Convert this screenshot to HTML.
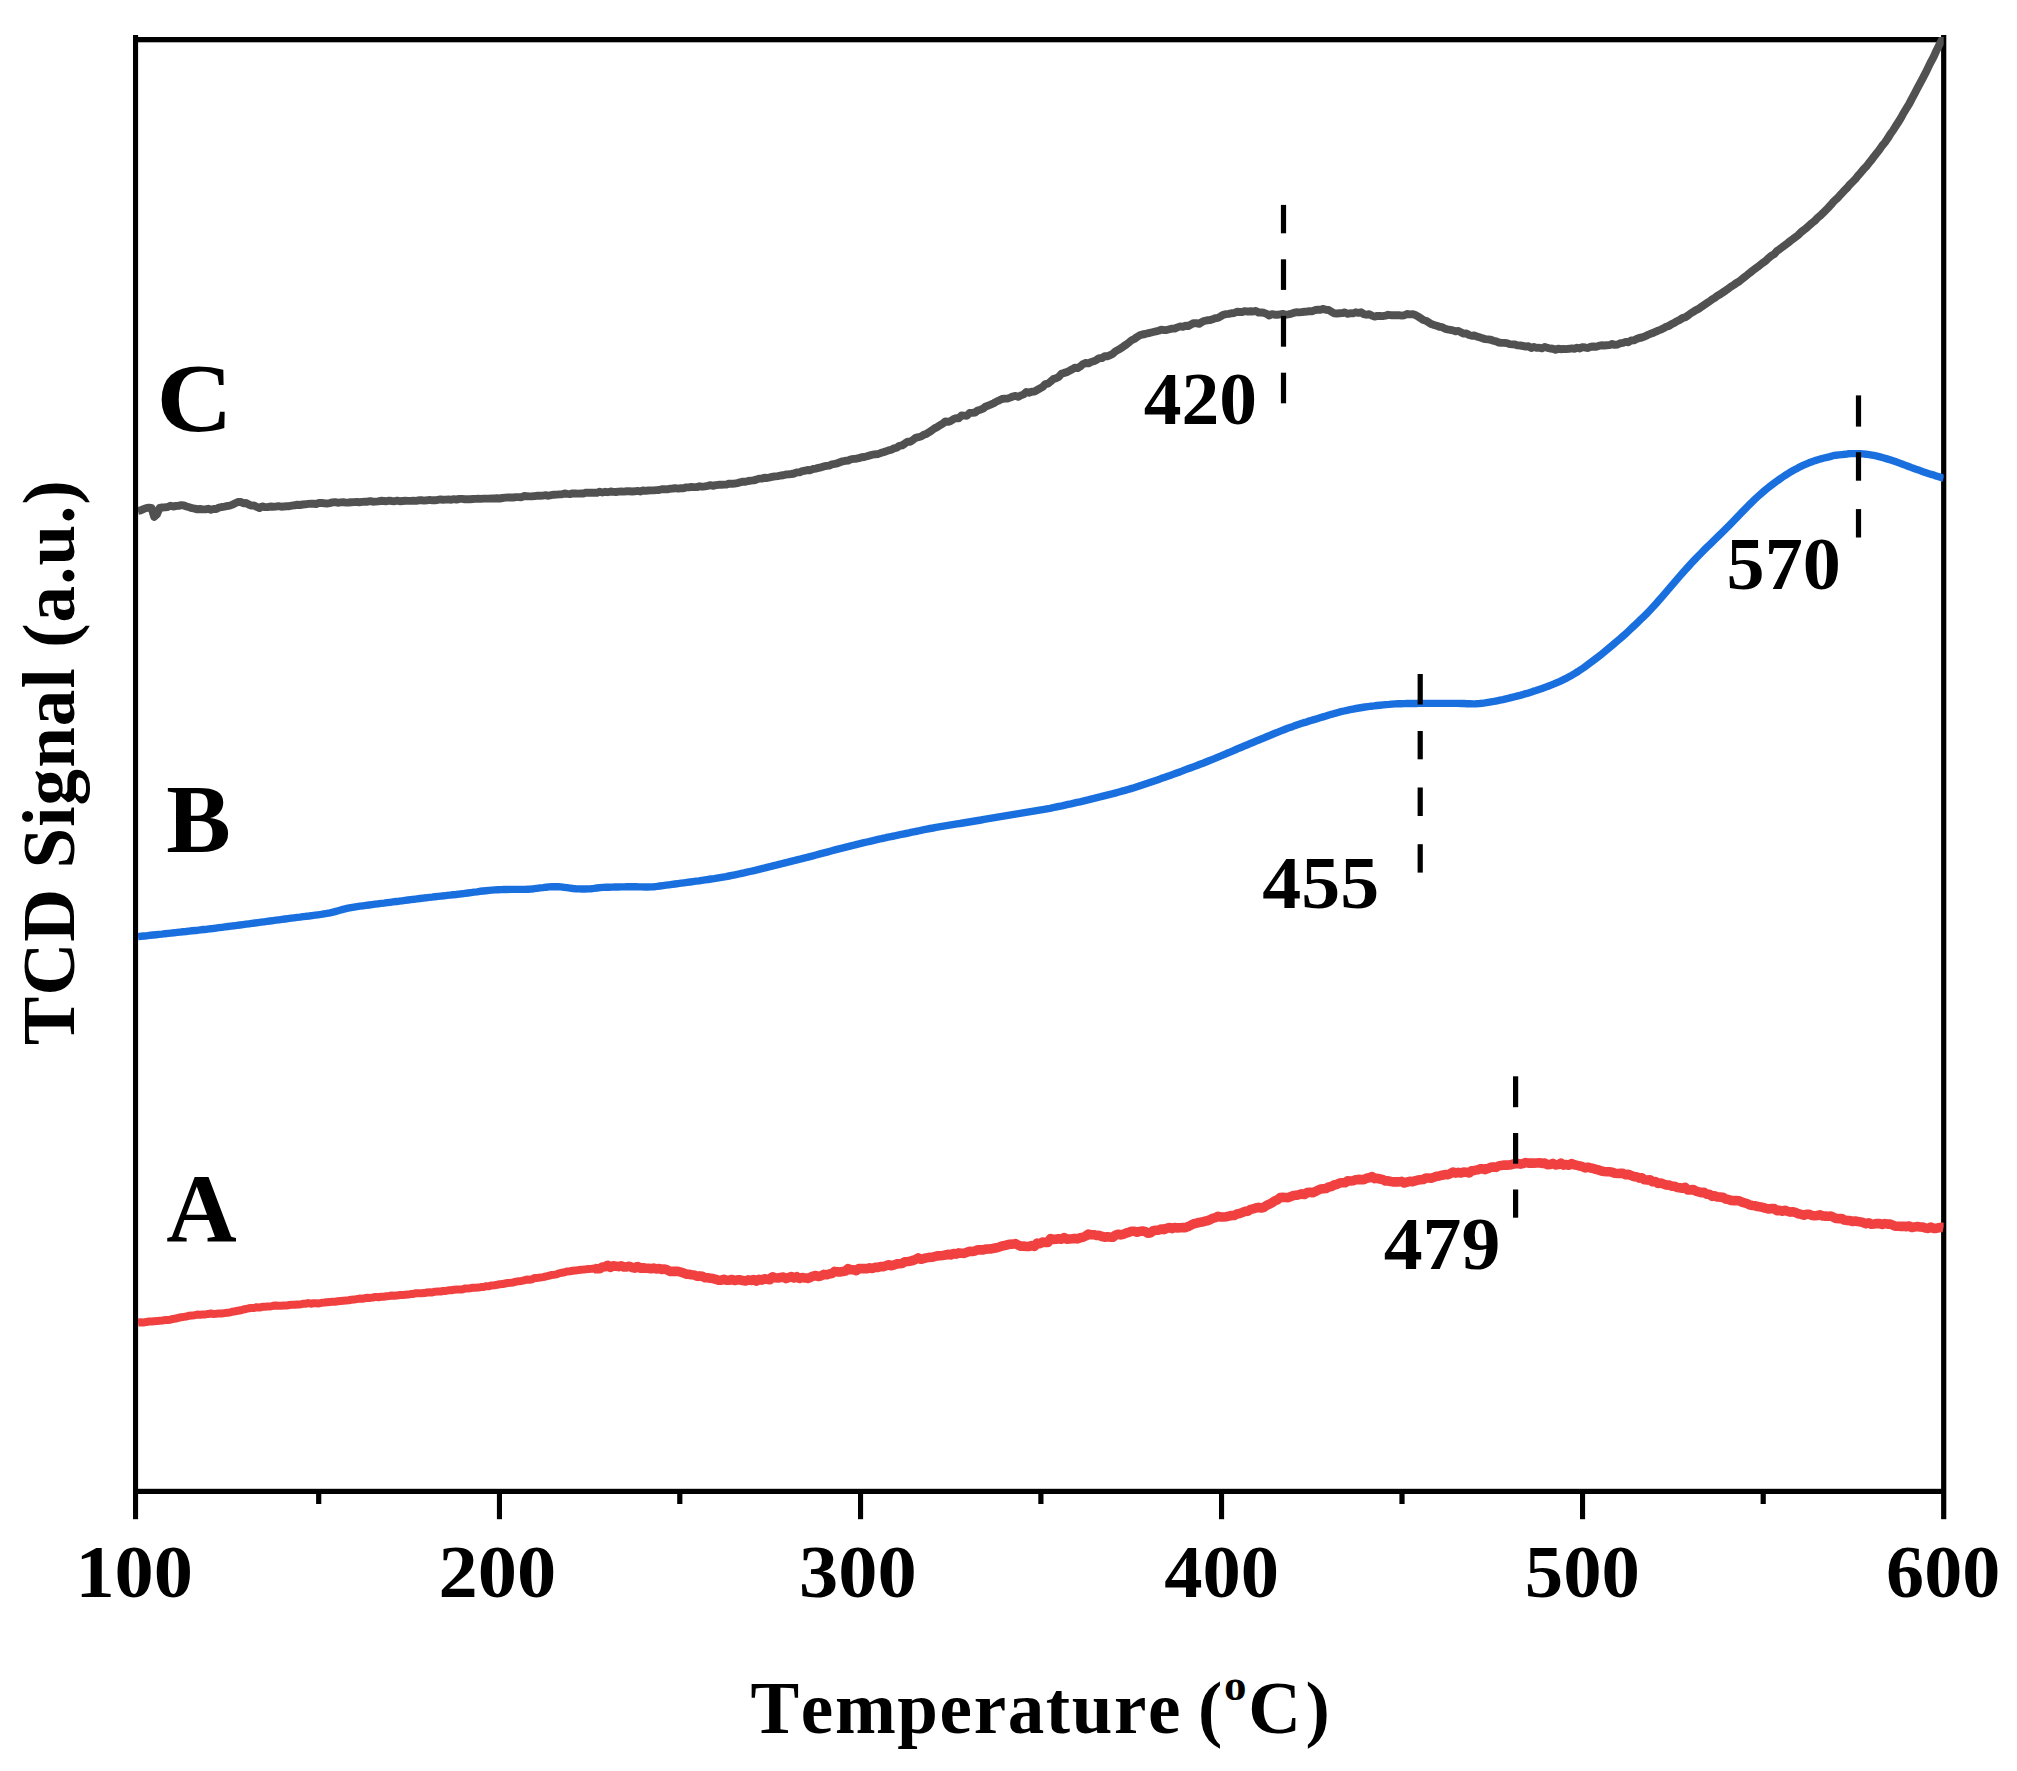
<!DOCTYPE html>
<html><head><meta charset="utf-8"><title>TCD Signal vs Temperature</title>
<style>html,body{margin:0;padding:0;background:#fff}svg{display:block}text{font-kerning:none;font-family:"Liberation Serif",serif;font-weight:bold;fill:#000}</style></head><body>
<svg width="2017" height="1771" viewBox="0 0 2017 1771">
<rect width="2017" height="1771" fill="#fff"/>
<rect x="133" y="37" width="1813" height="5.3" fill="#000"/>
<rect x="133" y="35" width="5.1" height="1484.2" fill="#000"/>
<rect x="1941.1" y="35" width="5.2" height="1484.2" fill="#000"/>
<rect x="133" y="1488.8" width="1813" height="5.2" fill="#000"/>
<rect x="496.9" y="1491" width="5.1" height="28.2" fill="#000"/>
<rect x="858.0" y="1491" width="5.1" height="28.2" fill="#000"/>
<rect x="1219.0" y="1491" width="5.1" height="28.2" fill="#000"/>
<rect x="1580.0" y="1491" width="5.1" height="28.2" fill="#000"/>
<rect x="316.1" y="1491" width="5.2" height="13" fill="#000"/>
<rect x="677.2" y="1491" width="5.2" height="13" fill="#000"/>
<rect x="1038.3" y="1491" width="5.2" height="13" fill="#000"/>
<rect x="1399.4" y="1491" width="5.2" height="13" fill="#000"/>
<rect x="1760.6" y="1491" width="5.2" height="13" fill="#000"/>
<defs><clipPath id="plotclip"><rect x="138" y="37" width="1805.7" height="1457"/></clipPath></defs>
<g clip-path="url(#plotclip)" fill="none" stroke-linejoin="round">
<polyline points="138.0,510.9 140.7,510.3 143.4,509.1 146.1,508.1 148.8,507.7 151.5,507.9 154.2,516.9 156.9,514.4 159.6,508.0 162.3,507.5 165.0,507.3 167.7,507.0 170.4,505.7 173.1,506.5 175.8,506.0 178.5,505.9 181.2,505.1 183.9,505.5 186.6,506.5 189.3,507.3 192.0,508.2 194.7,508.6 197.4,509.4 200.1,509.0 202.8,509.4 205.5,509.4 208.2,508.8 210.9,509.8 213.6,509.0 216.3,509.0 219.0,507.6 221.7,507.0 224.4,506.6 227.1,506.0 229.8,505.6 232.5,504.6 235.2,503.3 237.9,502.0 240.6,501.9 243.3,503.2 246.0,503.0 248.7,504.5 251.4,505.6 254.1,505.5 256.8,506.9 259.5,508.0 262.2,506.4 264.9,507.1 267.6,507.1 270.3,506.5 273.0,506.8 275.7,506.6 278.4,506.2 281.1,506.7 283.8,506.5 286.5,506.3 289.2,506.2 291.9,505.6 294.6,505.3 297.3,504.7 300.0,505.0 302.7,504.5 305.4,504.3 308.1,503.9 310.8,503.8 313.5,503.7 316.2,504.0 318.9,503.0 321.6,503.0 324.3,503.3 327.0,503.5 329.7,503.1 332.4,502.4 335.1,502.1 337.8,502.8 340.5,502.4 343.2,502.2 345.9,502.6 348.6,502.5 351.3,502.2 354.0,502.1 356.7,502.0 359.4,502.2 362.1,501.9 364.8,501.8 367.5,501.7 370.2,501.1 372.9,501.7 375.6,501.6 378.3,501.4 381.0,500.7 383.7,501.0 386.4,501.3 389.1,500.6 391.8,501.0 394.5,501.3 397.2,500.6 399.9,501.3 402.6,501.0 405.3,500.8 408.0,500.9 410.7,500.9 413.4,500.7 416.1,500.9 418.8,500.3 421.5,500.3 424.2,500.6 426.9,500.3 429.6,499.9 432.3,500.3 435.0,500.3 437.7,499.8 440.4,499.4 443.1,499.7 445.8,499.6 448.5,499.4 451.2,499.8 453.9,499.1 456.6,499.6 459.3,498.9 462.0,498.9 464.7,499.2 467.4,499.3 470.1,499.2 472.8,499.0 475.5,498.9 478.2,498.8 480.9,498.9 483.6,498.6 486.3,498.6 489.0,498.6 491.7,498.4 494.4,498.5 497.1,498.3 499.8,498.5 502.5,498.0 505.2,497.6 507.9,497.5 510.6,497.4 513.3,497.5 516.0,497.1 518.7,497.1 521.4,497.3 524.1,496.0 526.8,496.2 529.5,496.4 532.2,496.3 534.9,496.1 537.6,495.7 540.3,495.8 543.0,495.6 545.7,495.2 548.4,495.8 551.1,495.1 553.8,494.7 556.5,494.6 559.2,494.4 561.9,494.3 564.6,493.5 567.3,493.9 570.0,494.1 572.7,493.4 575.4,493.5 578.1,493.6 580.8,493.5 583.5,493.5 586.2,492.6 588.9,492.8 591.6,492.7 594.3,492.8 597.0,492.8 599.7,491.7 602.4,492.5 605.1,491.8 607.8,492.2 610.5,491.5 613.2,491.9 615.9,492.0 618.6,491.6 621.3,491.5 624.0,491.6 626.7,491.3 629.4,491.2 632.1,491.5 634.8,491.3 637.5,490.9 640.2,491.5 642.9,490.5 645.6,490.9 648.3,490.5 651.0,490.4 653.7,490.4 656.4,490.1 659.1,490.0 661.8,489.3 664.5,489.1 667.2,489.4 669.9,488.7 672.6,488.5 675.3,488.2 678.0,488.6 680.7,488.3 683.4,488.2 686.1,487.4 688.8,487.4 691.5,486.9 694.2,487.1 696.9,487.1 699.6,486.3 702.3,486.7 705.0,486.3 707.7,485.8 710.4,485.2 713.1,485.8 715.8,485.2 718.5,484.8 721.2,484.8 723.9,484.6 726.6,484.5 729.3,483.6 732.0,483.8 734.7,483.5 737.4,483.1 740.1,482.3 742.8,481.7 745.5,481.7 748.2,481.0 750.9,480.6 753.6,480.4 756.3,479.6 759.0,478.6 761.7,478.6 764.4,477.8 767.1,478.0 769.8,477.4 772.5,476.7 775.2,476.4 777.9,476.1 780.6,475.5 783.3,475.3 786.0,474.5 788.7,474.3 791.4,474.0 794.1,473.5 796.8,472.4 799.5,472.3 802.2,471.1 804.9,470.8 807.6,470.0 810.3,470.2 813.0,469.0 815.7,468.6 818.4,467.9 821.1,467.3 823.8,466.4 826.5,465.9 829.2,465.6 831.9,464.4 834.6,463.9 837.3,463.3 840.0,462.3 842.7,461.3 845.4,460.8 848.1,460.6 850.8,459.3 853.5,458.9 856.2,458.7 858.9,458.1 861.6,457.3 864.3,457.0 867.0,456.3 869.7,455.4 872.4,454.7 875.1,454.3 877.8,454.1 880.5,453.1 883.2,452.2 885.9,451.4 888.6,450.4 891.3,449.7 894.0,448.4 896.7,447.7 899.4,445.8 902.1,445.4 904.8,443.6 907.5,441.7 910.2,441.8 912.9,440.0 915.6,437.8 918.3,437.2 921.0,436.5 923.7,434.8 926.4,433.9 929.1,432.2 931.8,430.4 934.5,428.4 937.2,427.1 939.9,425.2 942.6,423.8 945.3,421.4 948.0,421.9 950.7,421.0 953.4,419.2 956.1,418.1 958.8,418.3 961.5,415.5 964.2,415.6 966.9,415.7 969.6,413.0 972.3,412.9 975.0,412.5 977.7,410.5 980.4,409.7 983.1,408.6 985.8,406.4 988.5,405.5 991.2,404.3 993.9,403.2 996.6,401.5 999.3,400.3 1002.0,399.0 1004.7,398.6 1007.4,398.6 1010.1,397.6 1012.8,396.5 1015.5,395.9 1018.2,396.9 1020.9,395.4 1023.6,394.4 1026.3,392.0 1029.0,392.7 1031.7,391.8 1034.4,391.6 1037.1,390.0 1039.8,388.5 1042.5,387.1 1045.2,384.1 1047.9,383.7 1050.6,381.5 1053.3,379.1 1056.0,378.3 1058.7,376.9 1061.4,373.8 1064.1,372.9 1066.8,372.1 1069.5,370.8 1072.2,369.3 1074.9,367.7 1077.6,368.1 1080.3,366.4 1083.0,364.1 1085.7,363.0 1088.4,363.4 1091.1,362.0 1093.8,361.3 1096.5,359.9 1099.2,358.2 1101.9,358.1 1104.6,356.3 1107.3,356.2 1110.0,355.2 1112.7,353.9 1115.4,351.4 1118.1,349.9 1120.8,348.3 1123.5,346.4 1126.2,344.6 1128.9,342.5 1131.6,340.3 1134.3,339.0 1137.0,337.0 1139.7,335.3 1142.4,334.5 1145.1,334.0 1147.8,333.3 1150.5,332.7 1153.2,332.0 1155.9,331.4 1158.6,330.7 1161.3,329.7 1164.0,330.1 1166.7,330.0 1169.4,329.3 1172.1,328.6 1174.8,328.5 1177.5,327.4 1180.2,326.4 1182.9,326.8 1185.6,325.7 1188.3,326.0 1191.0,324.5 1193.7,323.1 1196.4,323.2 1199.1,323.8 1201.8,322.1 1204.5,320.8 1207.2,320.3 1209.9,320.1 1212.6,319.3 1215.3,318.2 1218.0,317.9 1220.7,316.3 1223.4,314.8 1226.1,314.1 1228.8,313.9 1231.5,313.2 1234.2,313.0 1236.9,311.7 1239.6,312.0 1242.3,312.0 1245.0,311.1 1247.7,311.6 1250.4,311.3 1253.1,311.5 1255.8,310.9 1258.5,312.5 1261.2,312.5 1263.9,312.8 1266.6,313.9 1269.3,315.5 1272.0,314.1 1274.7,314.7 1277.4,314.8 1280.1,314.3 1282.8,313.9 1285.5,314.7 1288.2,314.4 1290.9,313.9 1293.6,312.9 1296.3,312.2 1299.0,312.4 1301.7,312.1 1304.4,311.8 1307.1,311.5 1309.8,311.1 1312.5,311.2 1315.2,310.0 1317.9,309.8 1320.6,309.7 1323.3,308.9 1326.0,309.8 1328.7,310.0 1331.4,311.8 1334.1,313.2 1336.8,313.5 1339.5,313.2 1342.2,313.1 1344.9,312.4 1347.6,313.9 1350.3,313.2 1353.0,313.4 1355.7,312.3 1358.4,312.8 1361.1,312.3 1363.8,314.1 1366.5,314.8 1369.2,314.1 1371.9,315.6 1374.6,316.6 1377.3,315.9 1380.0,316.0 1382.7,316.1 1385.4,315.7 1388.1,314.8 1390.8,315.2 1393.5,315.2 1396.2,315.3 1398.9,315.2 1401.6,315.6 1404.3,315.3 1407.0,314.0 1409.7,314.4 1412.4,314.2 1415.1,314.8 1417.8,316.4 1420.5,318.1 1423.2,320.0 1425.9,320.7 1428.6,322.4 1431.3,324.1 1434.0,325.0 1436.7,325.8 1439.4,326.8 1442.1,327.1 1444.8,328.7 1447.5,329.4 1450.2,329.9 1452.9,330.4 1455.6,331.4 1458.3,330.9 1461.0,332.4 1463.7,333.6 1466.4,333.5 1469.1,335.0 1471.8,335.7 1474.5,335.5 1477.2,336.7 1479.9,337.3 1482.6,338.4 1485.3,339.1 1488.0,339.4 1490.7,339.7 1493.4,340.7 1496.1,341.4 1498.8,342.5 1501.5,342.9 1504.2,342.9 1506.9,343.1 1509.6,344.1 1512.3,344.4 1515.0,344.5 1517.7,345.4 1520.4,345.5 1523.1,346.0 1525.8,346.5 1528.5,346.3 1531.2,348.0 1533.9,346.9 1536.6,347.9 1539.3,347.7 1542.0,348.4 1544.7,346.9 1547.4,347.9 1550.1,348.5 1552.8,348.8 1555.5,349.7 1558.2,348.7 1560.9,349.2 1563.6,348.9 1566.3,349.1 1569.0,348.8 1571.7,348.4 1574.4,348.7 1577.1,347.7 1579.8,348.5 1582.5,347.1 1585.2,347.5 1587.9,348.1 1590.6,346.7 1593.3,346.5 1596.0,346.8 1598.7,345.9 1601.4,345.2 1604.1,345.5 1606.8,345.3 1609.5,345.1 1612.2,344.0 1614.9,344.9 1617.6,344.5 1620.3,343.2 1623.0,342.9 1625.7,341.9 1628.4,342.2 1631.1,340.5 1633.8,340.4 1636.5,339.0 1639.2,338.0 1641.9,337.5 1644.6,336.6 1647.3,335.2 1650.0,334.0 1652.7,333.1 1655.4,331.8 1658.1,330.6 1660.8,329.6 1663.5,328.3 1666.2,326.7 1668.9,325.9 1671.6,324.1 1674.3,322.9 1677.0,321.2 1679.7,319.9 1682.4,318.1 1685.1,317.3 1687.8,315.6 1690.5,313.5 1693.2,311.8 1695.9,310.1 1698.6,308.9 1701.3,306.8 1704.0,305.1 1706.7,303.2 1709.4,301.5 1712.1,299.4 1714.8,297.8 1717.5,295.7 1720.2,294.2 1722.9,292.4 1725.6,290.6 1728.3,288.7 1731.0,286.7 1733.7,285.0 1736.4,283.0 1739.1,281.5 1741.8,279.3 1744.5,277.1 1747.2,275.0 1749.9,272.8 1752.6,270.7 1755.3,268.7 1758.0,266.7 1760.7,264.5 1763.4,262.4 1766.1,260.5 1768.8,257.8 1771.5,255.7 1774.2,254.1 1776.9,251.0 1779.6,249.2 1782.3,247.2 1785.0,245.1 1787.7,243.1 1790.4,240.9 1793.1,238.9 1795.8,236.8 1798.5,234.8 1801.2,232.0 1803.9,230.0 1806.6,227.9 1809.3,225.4 1812.0,223.0 1814.7,220.9 1817.4,218.1 1820.1,215.8 1822.8,213.2 1825.5,210.4 1828.2,207.7 1830.9,204.8 1833.6,201.7 1836.3,199.2 1839.0,196.4 1841.7,193.4 1844.4,190.6 1847.1,187.9 1849.8,184.6 1852.5,182.0 1855.2,179.3 1857.9,175.8 1860.6,172.8 1863.3,169.6 1866.0,166.8 1868.7,163.3 1871.4,160.1 1874.1,156.4 1876.8,153.1 1879.5,149.6 1882.2,145.6 1884.9,142.5 1887.6,138.6 1890.3,134.1 1893.0,130.5 1895.7,126.2 1898.4,122.0 1901.1,117.6 1903.8,112.7 1906.5,108.3 1909.2,103.9 1911.9,98.6 1914.6,93.6 1917.3,88.4 1920.0,83.3 1922.7,78.3 1925.4,73.2 1928.1,67.6 1930.8,62.1 1933.5,57.1 1936.2,51.1 1938.9,45.7 1941.6,40.6 1943.7,35.2" stroke="#515151" stroke-width="7.9"/>
<polyline points="138.0,936.6 141.0,936.3 144.0,936.0 147.0,935.7 150.0,935.3 153.0,935.0 156.0,934.7 159.0,934.4 162.0,934.1 165.0,933.7 168.0,933.4 171.0,933.1 174.0,932.8 177.0,932.4 180.0,932.1 183.0,931.8 186.0,931.5 189.0,931.1 192.0,930.8 195.0,930.5 198.0,930.2 201.0,929.8 204.0,929.5 207.0,929.2 210.0,928.8 213.0,928.5 216.0,928.1 219.0,927.7 222.0,927.3 225.0,926.9 228.0,926.5 231.0,926.1 234.0,925.8 237.0,925.4 240.0,925.0 243.0,924.6 246.0,924.2 249.0,923.8 252.0,923.4 255.0,923.0 258.0,922.6 261.0,922.2 264.0,921.8 267.0,921.4 270.0,921.0 273.0,920.6 276.0,920.2 279.0,919.8 282.0,919.4 285.0,919.0 288.0,918.6 291.0,918.2 294.0,917.8 297.0,917.4 300.0,917.1 303.0,916.7 306.0,916.3 309.0,916.0 312.0,915.6 315.0,915.2 318.0,914.8 321.0,914.4 324.0,913.9 327.0,913.4 330.0,912.8 333.0,912.1 336.0,911.3 339.0,910.5 342.0,909.7 345.0,908.9 348.0,908.2 351.0,907.6 354.0,907.1 357.0,906.6 360.0,906.2 363.0,905.8 366.0,905.4 369.0,905.0 372.0,904.6 375.0,904.2 378.0,903.8 381.0,903.4 384.0,903.1 387.0,902.7 390.0,902.3 393.0,901.9 396.0,901.5 399.0,901.2 402.0,900.8 405.0,900.4 408.0,900.0 411.0,899.6 414.0,899.3 417.0,898.9 420.0,898.5 423.0,898.1 426.0,897.8 429.0,897.4 432.0,897.1 435.0,896.7 438.0,896.4 441.0,896.1 444.0,895.8 447.0,895.4 450.0,895.1 453.0,894.8 456.0,894.5 459.0,894.1 462.0,893.8 465.0,893.4 468.0,893.0 471.0,892.6 474.0,892.2 477.0,891.8 480.0,891.3 483.0,891.0 486.0,890.7 489.0,890.4 492.0,890.1 495.0,889.9 498.0,889.7 501.0,889.6 504.0,889.5 507.0,889.5 510.0,889.4 513.0,889.4 516.0,889.4 519.0,889.4 522.0,889.4 525.0,889.4 528.0,889.2 531.0,889.0 534.0,888.7 537.0,888.3 540.0,887.9 543.0,887.6 546.0,887.2 549.0,886.9 552.0,886.8 555.0,886.7 558.0,886.7 561.0,886.9 564.0,887.3 567.0,887.7 570.0,888.1 573.0,888.5 576.0,888.8 579.0,888.9 582.0,889.0 585.0,889.0 588.0,888.9 591.0,888.7 594.0,888.4 597.0,888.0 600.0,887.6 603.0,887.4 606.0,887.3 609.0,887.2 612.0,887.1 615.0,887.0 618.0,887.0 621.0,886.9 624.0,886.9 627.0,886.8 630.0,886.8 633.0,886.8 636.0,886.8 639.0,886.9 642.0,886.9 645.0,887.0 648.0,887.0 651.0,886.9 654.0,886.7 657.0,886.4 660.0,886.0 663.0,885.6 666.0,885.2 669.0,884.8 672.0,884.4 675.0,884.0 678.0,883.6 681.0,883.2 684.0,882.8 687.0,882.4 690.0,882.0 693.0,881.6 696.0,881.2 699.0,880.8 702.0,880.3 705.0,879.9 708.0,879.5 711.0,879.0 714.0,878.6 717.0,878.1 720.0,877.6 723.0,877.1 726.0,876.6 729.0,876.0 732.0,875.4 735.0,874.8 738.0,874.2 741.0,873.5 744.0,872.9 747.0,872.2 750.0,871.5 753.0,870.8 756.0,870.1 759.0,869.3 762.0,868.6 765.0,867.9 768.0,867.1 771.0,866.4 774.0,865.6 777.0,864.9 780.0,864.1 783.0,863.4 786.0,862.6 789.0,861.9 792.0,861.1 795.0,860.4 798.0,859.6 801.0,858.9 804.0,858.1 807.0,857.4 810.0,856.6 813.0,855.8 816.0,855.0 819.0,854.2 822.0,853.4 825.0,852.6 828.0,851.8 831.0,851.0 834.0,850.2 837.0,849.4 840.0,848.6 843.0,847.9 846.0,847.1 849.0,846.4 852.0,845.6 855.0,844.9 858.0,844.1 861.0,843.4 864.0,842.7 867.0,842.0 870.0,841.3 873.0,840.6 876.0,839.9 879.0,839.2 882.0,838.5 885.0,837.9 888.0,837.2 891.0,836.6 894.0,836.0 897.0,835.3 900.0,834.7 903.0,834.1 906.0,833.5 909.0,832.9 912.0,832.2 915.0,831.6 918.0,831.0 921.0,830.3 924.0,829.7 927.0,829.1 930.0,828.5 933.0,828.0 936.0,827.4 939.0,826.9 942.0,826.4 945.0,825.9 948.0,825.4 951.0,824.9 954.0,824.4 957.0,823.9 960.0,823.5 963.0,823.0 966.0,822.5 969.0,822.0 972.0,821.5 975.0,821.0 978.0,820.5 981.0,820.0 984.0,819.4 987.0,818.9 990.0,818.4 993.0,817.9 996.0,817.4 999.0,816.9 1002.0,816.4 1005.0,815.9 1008.0,815.4 1011.0,814.9 1014.0,814.4 1017.0,813.9 1020.0,813.4 1023.0,812.9 1026.0,812.4 1029.0,811.9 1032.0,811.4 1035.0,810.9 1038.0,810.4 1041.0,809.9 1044.0,809.4 1047.0,808.8 1050.0,808.3 1053.0,807.7 1056.0,807.0 1059.0,806.4 1062.0,805.8 1065.0,805.1 1068.0,804.4 1071.0,803.8 1074.0,803.1 1077.0,802.4 1080.0,801.8 1083.0,801.1 1086.0,800.4 1089.0,799.7 1092.0,798.9 1095.0,798.2 1098.0,797.4 1101.0,796.7 1104.0,795.9 1107.0,795.1 1110.0,794.3 1113.0,793.6 1116.0,792.8 1119.0,792.0 1122.0,791.2 1125.0,790.4 1128.0,789.5 1131.0,788.6 1134.0,787.7 1137.0,786.7 1140.0,785.7 1143.0,784.7 1146.0,783.7 1149.0,782.7 1152.0,781.7 1155.0,780.7 1158.0,779.7 1161.0,778.6 1164.0,777.6 1167.0,776.5 1170.0,775.5 1173.0,774.4 1176.0,773.3 1179.0,772.2 1182.0,771.1 1185.0,769.9 1188.0,768.8 1191.0,767.7 1194.0,766.6 1197.0,765.5 1200.0,764.3 1203.0,763.2 1206.0,762.0 1209.0,760.8 1212.0,759.6 1215.0,758.4 1218.0,757.1 1221.0,755.9 1224.0,754.6 1227.0,753.3 1230.0,752.1 1233.0,750.8 1236.0,749.5 1239.0,748.2 1242.0,747.0 1245.0,745.7 1248.0,744.5 1251.0,743.2 1254.0,742.0 1257.0,740.7 1260.0,739.5 1263.0,738.3 1266.0,737.0 1269.0,735.8 1272.0,734.5 1275.0,733.3 1278.0,732.1 1281.0,730.9 1284.0,729.7 1287.0,728.5 1290.0,727.4 1293.0,726.4 1296.0,725.3 1299.0,724.3 1302.0,723.3 1305.0,722.4 1308.0,721.4 1311.0,720.5 1314.0,719.6 1317.0,718.7 1320.0,717.8 1323.0,716.9 1326.0,716.0 1329.0,715.0 1332.0,714.2 1335.0,713.3 1338.0,712.5 1341.0,711.7 1344.0,711.0 1347.0,710.3 1350.0,709.7 1353.0,709.1 1356.0,708.5 1359.0,708.0 1362.0,707.5 1365.0,707.0 1368.0,706.6 1371.0,706.2 1374.0,705.9 1377.0,705.5 1380.0,705.2 1383.0,704.9 1386.0,704.6 1389.0,704.4 1392.0,704.1 1395.0,703.9 1398.0,703.8 1401.0,703.7 1404.0,703.6 1407.0,703.5 1410.0,703.5 1413.0,703.5 1416.0,703.5 1419.0,703.4 1422.0,703.4 1425.0,703.4 1428.0,703.4 1431.0,703.4 1434.0,703.4 1437.0,703.4 1440.0,703.4 1443.0,703.4 1446.0,703.4 1449.0,703.4 1452.0,703.4 1455.0,703.4 1458.0,703.4 1461.0,703.5 1464.0,703.5 1467.0,703.7 1470.0,703.8 1473.0,703.9 1476.0,703.8 1479.0,703.6 1482.0,703.3 1485.0,702.9 1488.0,702.4 1491.0,701.9 1494.0,701.4 1497.0,700.8 1500.0,700.2 1503.0,699.6 1506.0,698.9 1509.0,698.2 1512.0,697.4 1515.0,696.7 1518.0,695.9 1521.0,695.1 1524.0,694.2 1527.0,693.4 1530.0,692.4 1533.0,691.4 1536.0,690.5 1539.0,689.5 1542.0,688.5 1545.0,687.4 1548.0,686.3 1551.0,685.1 1554.0,683.9 1557.0,682.6 1560.0,681.3 1563.0,679.9 1566.0,678.4 1569.0,676.8 1572.0,675.2 1575.0,673.4 1578.0,671.5 1581.0,669.5 1584.0,667.5 1587.0,665.3 1590.0,663.1 1593.0,660.8 1596.0,658.5 1599.0,656.2 1602.0,653.8 1605.0,651.4 1608.0,648.9 1611.0,646.4 1614.0,643.9 1617.0,641.3 1620.0,638.7 1623.0,636.1 1626.0,633.4 1629.0,630.6 1632.0,627.8 1635.0,625.0 1638.0,622.1 1641.0,619.2 1644.0,616.3 1647.0,613.3 1650.0,610.2 1653.0,607.0 1656.0,603.7 1659.0,600.3 1662.0,596.8 1665.0,593.3 1668.0,589.8 1671.0,586.3 1674.0,582.8 1677.0,579.3 1680.0,575.9 1683.0,572.5 1686.0,569.1 1689.0,565.9 1692.0,562.6 1695.0,559.4 1698.0,556.3 1701.0,553.2 1704.0,550.2 1707.0,547.2 1710.0,544.3 1713.0,541.3 1716.0,538.4 1719.0,535.5 1722.0,532.6 1725.0,529.6 1728.0,526.6 1731.0,523.6 1734.0,520.5 1737.0,517.4 1740.0,514.2 1743.0,511.1 1746.0,508.1 1749.0,505.0 1752.0,502.1 1755.0,499.2 1758.0,496.4 1761.0,493.7 1764.0,491.1 1767.0,488.6 1770.0,486.3 1773.0,484.0 1776.0,481.7 1779.0,479.6 1782.0,477.5 1785.0,475.5 1788.0,473.6 1791.0,471.7 1794.0,470.0 1797.0,468.4 1800.0,466.8 1803.0,465.4 1806.0,464.1 1809.0,462.8 1812.0,461.7 1815.0,460.6 1818.0,459.7 1821.0,458.8 1824.0,458.0 1827.0,457.3 1830.0,456.6 1833.0,455.7 1836.0,455.2 1839.0,454.9 1842.0,454.6 1845.0,454.3 1848.0,453.8 1851.0,453.6 1854.0,453.6 1857.0,453.6 1860.0,453.7 1863.0,453.9 1866.0,454.2 1869.0,454.6 1872.0,455.1 1875.0,455.7 1878.0,456.4 1881.0,457.2 1884.0,458.0 1887.0,458.9 1890.0,459.8 1893.0,460.8 1896.0,461.8 1899.0,462.9 1902.0,464.0 1905.0,465.1 1908.0,466.2 1911.0,467.4 1914.0,468.5 1917.0,469.6 1920.0,470.6 1923.0,471.7 1926.0,472.7 1929.0,473.7 1932.0,474.6 1935.0,475.6 1938.0,476.5 1941.0,477.4 1943.7,478.3" stroke="#1a6fdf" stroke-width="7.4"/>
<polyline points="138.0,1322.6 140.7,1322.3 143.4,1322.4 146.1,1322.1 148.8,1321.5 151.5,1321.5 154.2,1321.2 156.9,1321.1 159.6,1320.7 162.3,1320.5 165.0,1320.1 167.7,1320.0 170.4,1319.7 173.1,1318.9 175.8,1318.6 178.5,1317.7 181.2,1317.3 183.9,1316.9 186.6,1316.5 189.3,1315.7 192.0,1315.4 194.7,1315.2 197.4,1314.6 200.1,1314.7 202.8,1314.4 205.5,1314.4 208.2,1313.9 210.9,1313.6 213.6,1313.9 216.3,1313.8 219.0,1313.4 221.7,1313.5 224.4,1313.1 227.1,1312.7 229.8,1312.5 232.5,1311.7 235.2,1311.3 237.9,1310.8 240.6,1310.3 243.3,1309.5 246.0,1309.0 248.7,1308.3 251.4,1308.0 254.1,1308.0 256.8,1307.2 259.5,1307.6 262.2,1306.8 264.9,1306.7 267.6,1306.5 270.3,1306.5 273.0,1305.8 275.7,1305.5 278.4,1305.8 281.1,1305.7 283.8,1305.4 286.5,1305.6 289.2,1305.0 291.9,1304.8 294.6,1304.7 297.3,1304.4 300.0,1304.5 302.7,1303.8 305.4,1303.8 308.1,1303.0 310.8,1303.7 313.5,1303.3 316.2,1303.3 318.9,1303.4 321.6,1302.8 324.3,1302.6 327.0,1302.3 329.7,1302.0 332.4,1301.8 335.1,1301.7 337.8,1301.3 340.5,1301.0 343.2,1300.7 345.9,1300.6 348.6,1300.2 351.3,1299.7 354.0,1299.6 356.7,1299.1 359.4,1298.6 362.1,1298.8 364.8,1298.3 367.5,1297.8 370.2,1297.9 372.9,1297.5 375.6,1296.9 378.3,1297.3 381.0,1296.8 383.7,1296.7 386.4,1296.3 389.1,1296.0 391.8,1295.5 394.5,1295.8 397.2,1295.4 399.9,1295.1 402.6,1295.0 405.3,1294.7 408.0,1294.6 410.7,1294.1 413.4,1293.9 416.1,1293.2 418.8,1293.3 421.5,1293.3 424.2,1293.1 426.9,1292.5 429.6,1292.3 432.3,1292.4 435.0,1291.7 437.7,1291.6 440.4,1291.6 443.1,1291.0 445.8,1290.9 448.5,1290.3 451.2,1290.2 453.9,1289.8 456.6,1289.6 459.3,1289.5 462.0,1289.5 464.7,1288.6 467.4,1288.4 470.1,1288.3 472.8,1287.8 475.5,1287.8 478.2,1287.6 480.9,1287.1 483.6,1287.0 486.3,1286.2 489.0,1286.3 491.7,1285.4 494.4,1285.2 497.1,1284.8 499.8,1284.3 502.5,1284.1 505.2,1283.5 507.9,1282.9 510.6,1282.7 513.3,1282.4 516.0,1281.6 518.7,1281.2 521.4,1280.9 524.1,1280.3 526.8,1279.5 529.5,1279.8 532.2,1279.3 534.9,1277.9 537.6,1277.9 540.3,1277.5 543.0,1277.1 545.7,1276.5 548.4,1275.8 551.1,1275.1 553.8,1274.8 556.5,1274.4 559.2,1273.3 561.9,1272.7 564.6,1272.3 567.3,1271.4 570.0,1271.3 572.7,1270.8 575.4,1270.6 578.1,1270.1 580.8,1269.7 583.5,1269.6 586.2,1269.3 588.9,1268.9 591.6,1268.8 594.3,1268.6 597.0,1268.8" stroke="#f14040" stroke-width="8"/>
<polyline points="594.3,1268.6 597.0,1268.8 599.7,1268.8 602.4,1267.0 605.1,1266.8 607.8,1265.3 610.5,1267.4 613.2,1265.8 615.9,1266.2 618.6,1266.6 621.3,1265.8 624.0,1267.0 626.7,1266.9 629.4,1266.2 632.1,1267.5 634.8,1268.1 637.5,1266.5 640.2,1268.1 642.9,1267.9 645.6,1268.1 648.3,1268.2 651.0,1268.8 653.7,1268.1 656.4,1268.9 659.1,1268.5 661.8,1269.5 664.5,1269.0 667.2,1269.9 669.9,1271.4 672.6,1271.2 675.3,1271.4 678.0,1271.4 680.7,1272.1 683.4,1273.1 686.1,1274.1 688.8,1274.3 691.5,1274.8 694.2,1275.0 696.9,1276.3 699.6,1275.9 702.3,1276.3 705.0,1277.7 707.7,1277.8 710.4,1278.2 713.1,1278.6 715.8,1279.3 718.5,1280.2 721.2,1280.2 723.9,1279.4 726.6,1280.3 729.3,1280.2 732.0,1279.5 734.7,1280.5 737.4,1279.9 740.1,1279.9 742.8,1280.6 745.5,1281.0 748.2,1279.9 750.9,1280.4 753.6,1279.5 756.3,1281.1 759.0,1279.4 761.7,1280.1 764.4,1278.8 767.1,1279.3 769.8,1279.8 772.5,1276.8 775.2,1277.7 777.9,1278.0 780.6,1277.5 783.3,1277.1 786.0,1278.6 788.7,1277.5 791.4,1276.6 794.1,1278.0 796.8,1276.7 799.5,1278.4 802.2,1277.5 804.9,1277.9 807.6,1278.4 810.3,1277.4 813.0,1276.1 815.7,1275.5 818.4,1276.5 821.1,1275.8 823.8,1274.4 826.5,1274.8 829.2,1274.0 831.9,1273.6 834.6,1271.4 837.3,1271.9 840.0,1272.0 842.7,1271.4 845.4,1271.0 848.1,1268.7 850.8,1269.8 853.5,1269.7 856.2,1270.6 858.9,1268.5 861.6,1268.6 864.3,1268.5 867.0,1268.8 869.7,1267.8 872.4,1268.5 875.1,1267.2 877.8,1267.4 880.5,1266.6 883.2,1266.6 885.9,1265.7 888.6,1264.7 891.3,1265.8 894.0,1264.9 896.7,1263.9 899.4,1263.7 902.1,1263.5 904.8,1261.7 907.5,1261.5 910.2,1261.2 912.9,1260.5 915.6,1259.4 918.3,1257.9 921.0,1259.3 923.7,1258.5 926.4,1257.9 929.1,1257.4 931.8,1257.3 934.5,1256.6 937.2,1255.9 939.9,1255.7 942.6,1255.4 945.3,1255.0 948.0,1254.3 950.7,1254.9 953.4,1253.5 956.1,1254.2 958.8,1252.9 961.5,1253.2 964.2,1253.4 966.9,1252.3 969.6,1251.4 972.3,1251.5 975.0,1251.1 977.7,1249.7 980.4,1249.9 983.1,1249.9 985.8,1249.1 988.5,1249.0 991.2,1248.9 993.9,1248.3 996.6,1247.8 999.3,1247.0 1002.0,1246.0 1004.7,1245.5 1007.4,1244.8 1010.1,1244.3 1012.8,1244.1 1015.5,1243.6 1018.2,1245.1 1020.9,1246.2 1023.6,1246.1 1026.3,1246.5 1029.0,1246.4 1031.7,1245.6 1034.4,1246.3 1037.1,1243.1 1039.8,1243.7 1042.5,1242.0 1045.2,1242.5 1047.9,1242.4 1050.6,1238.6 1053.3,1239.4 1056.0,1239.3 1058.7,1238.7 1061.4,1239.2 1064.1,1237.6 1066.8,1239.3 1069.5,1239.0 1072.2,1238.8 1074.9,1238.4 1077.6,1238.9 1080.3,1237.8 1083.0,1237.3 1085.7,1236.0 1088.4,1234.1 1091.1,1234.7 1093.8,1234.7 1096.5,1235.5 1099.2,1235.4 1101.9,1236.5 1104.6,1237.2 1107.3,1236.8 1110.0,1237.1 1112.7,1237.2 1115.4,1235.3 1118.1,1234.2 1120.8,1234.9 1123.5,1234.3 1126.2,1233.0 1128.9,1232.3 1131.6,1231.3 1134.3,1231.3 1137.0,1232.3 1139.7,1231.4 1142.4,1231.0 1145.1,1231.5 1147.8,1233.3 1150.5,1232.7 1153.2,1230.8 1155.9,1230.2 1158.6,1230.1 1161.3,1229.0 1164.0,1229.6 1166.7,1228.4 1169.4,1227.5 1172.1,1228.6 1174.8,1227.5 1177.5,1227.9 1180.2,1227.7 1182.9,1227.5 1185.6,1227.6 1188.3,1226.6 1191.0,1225.1 1193.7,1223.8 1196.4,1223.2 1199.1,1222.5 1201.8,1222.1 1204.5,1221.3 1207.2,1220.8 1209.9,1219.7 1212.6,1218.4 1215.3,1217.7 1218.0,1216.3 1220.7,1217.0 1223.4,1217.0 1226.1,1216.7 1228.8,1216.1 1231.5,1215.5 1234.2,1215.4 1236.9,1214.0 1239.6,1213.5 1242.3,1212.5 1245.0,1211.4 1247.7,1211.2 1250.4,1209.4 1253.1,1208.9 1255.8,1208.0 1258.5,1207.3 1261.2,1208.0 1263.9,1207.3 1266.6,1205.4 1269.3,1204.2 1272.0,1202.8 1274.7,1200.9 1277.4,1199.8 1280.1,1197.6 1282.8,1197.4 1285.5,1197.5 1288.2,1197.6 1290.9,1196.5 1293.6,1195.5 1296.3,1195.3 1299.0,1194.6 1301.7,1193.8 1304.4,1194.5 1307.1,1192.6 1309.8,1192.3 1312.5,1192.8 1315.2,1191.6 1317.9,1190.3 1320.6,1189.0 1323.3,1188.7 1326.0,1188.5 1328.7,1187.0 1331.4,1186.5 1334.1,1185.0 1336.8,1184.3 1339.5,1183.1 1342.2,1182.8 1344.9,1182.8 1347.6,1180.8 1350.3,1181.0 1353.0,1180.7 1355.7,1179.7 1358.4,1179.4 1361.1,1179.6 1363.8,1179.6 1366.5,1178.3 1369.2,1177.8 1371.9,1176.6 1374.6,1178.6 1377.3,1178.2 1380.0,1179.1 1382.7,1179.5 1385.4,1180.9 1388.1,1180.8 1390.8,1181.6 1393.5,1181.9 1396.2,1181.7 1398.9,1181.9 1401.6,1181.4 1404.3,1183.0 1407.0,1182.1 1409.7,1181.3 1412.4,1181.8 1415.1,1180.9 1417.8,1180.1 1420.5,1179.8 1423.2,1179.5 1425.9,1178.0 1428.6,1178.0 1431.3,1178.2 1434.0,1177.3 1436.7,1176.3 1439.4,1175.9 1442.1,1175.2 1444.8,1174.6 1447.5,1174.6 1450.2,1173.7 1452.9,1172.1 1455.6,1173.1 1458.3,1172.4 1461.0,1173.0 1463.7,1172.0 1466.4,1172.2 1469.1,1173.0 1471.8,1170.8 1474.5,1170.4 1477.2,1169.9 1479.9,1168.9 1482.6,1168.8 1485.3,1169.6 1488.0,1168.6 1490.7,1167.3 1493.4,1166.9 1496.1,1167.4 1498.8,1165.9 1501.5,1165.4 1504.2,1165.1 1506.9,1165.1 1509.6,1165.0 1512.3,1164.3 1515.0,1163.7 1517.7,1163.5 1520.4,1164.1 1523.1,1163.6 1525.8,1162.6 1528.5,1163.1 1531.2,1163.1 1533.9,1163.1 1536.6,1163.0 1539.3,1162.8 1542.0,1163.4 1544.7,1163.0 1547.4,1164.7 1550.1,1164.4 1552.8,1163.4 1555.5,1164.9 1558.2,1164.6 1560.9,1163.1 1563.6,1165.1 1566.3,1164.5 1569.0,1165.3 1571.7,1163.6 1574.4,1164.8 1577.1,1165.4 1579.8,1166.0 1582.5,1166.7 1585.2,1168.0 1587.9,1167.2 1590.6,1168.0 1593.3,1168.5 1596.0,1169.4 1598.7,1170.0 1601.4,1171.0 1604.1,1171.5 1606.8,1171.8 1609.5,1171.8 1612.2,1172.2 1614.9,1173.3 1617.6,1173.5 1620.3,1173.4 1623.0,1173.4 1625.7,1174.8 1628.4,1174.2 1631.1,1175.6 1633.8,1176.6 1636.5,1176.7 1639.2,1178.1 1641.9,1177.8 1644.6,1179.8 1647.3,1180.1 1650.0,1179.8 1652.7,1181.8 1655.4,1181.6 1658.1,1183.4 1660.8,1183.0 1663.5,1184.0 1666.2,1184.9 1668.9,1185.1 1671.6,1186.1 1674.3,1186.2 1677.0,1187.4 1679.7,1187.7 1682.4,1188.3 1685.1,1187.3 1687.8,1190.0 1690.5,1190.0 1693.2,1189.5 1695.9,1191.1 1698.6,1191.9 1701.3,1192.7 1704.0,1192.2 1706.7,1194.3 1709.4,1194.2 1712.1,1196.4 1714.8,1195.8 1717.5,1197.0 1720.2,1197.1 1722.9,1197.3 1725.6,1199.1 1728.3,1199.5 1731.0,1200.4 1733.7,1200.6 1736.4,1200.5 1739.1,1200.7 1741.8,1202.1 1744.5,1202.9 1747.2,1203.6 1749.9,1205.1 1752.6,1205.5 1755.3,1205.8 1758.0,1206.6 1760.7,1206.9 1763.4,1207.6 1766.1,1208.4 1768.8,1209.0 1771.5,1208.6 1774.2,1208.6 1776.9,1210.6 1779.6,1210.4 1782.3,1211.3 1785.0,1210.3 1787.7,1211.4 1790.4,1212.1 1793.1,1211.7 1795.8,1212.6 1798.5,1213.8 1801.2,1214.4 1803.9,1215.2 1806.6,1214.2 1809.3,1214.2 1812.0,1215.5 1814.7,1215.8 1817.4,1215.5 1820.1,1214.8 1822.8,1216.0 1825.5,1216.1 1828.2,1216.2 1830.9,1216.0 1833.6,1217.3 1836.3,1218.5 1839.0,1218.6 1841.7,1218.5 1844.4,1220.1 1847.1,1220.5 1849.8,1220.6 1852.5,1221.5 1855.2,1221.0 1857.9,1221.6 1860.6,1221.9 1863.3,1222.7 1866.0,1223.6 1868.7,1222.8 1871.4,1224.2 1874.1,1224.0 1876.8,1223.6 1879.5,1223.6 1882.2,1224.4 1884.9,1223.6 1887.6,1224.1 1890.3,1224.0 1893.0,1225.3 1895.7,1226.3 1898.4,1226.2 1901.1,1226.4 1903.8,1226.3 1906.5,1226.7 1909.2,1226.0 1911.9,1227.5 1914.6,1226.9 1917.3,1226.6 1920.0,1227.0 1922.7,1227.1 1925.4,1228.1 1928.1,1228.4 1930.8,1227.1 1933.5,1228.4 1936.2,1228.4 1938.9,1227.7 1941.6,1227.2 1943.7,1227.7" stroke="#f14040" stroke-width="9.6"/>
</g>
<rect x="1280.9" y="204.9" width="5.2" height="28.4" fill="#000"/>
<rect x="1280.9" y="259.3" width="5.2" height="30.6" fill="#000"/>
<rect x="1280.9" y="315.9" width="5.2" height="30.8" fill="#000"/>
<rect x="1280.9" y="372.7" width="5.2" height="30.6" fill="#000"/>
<rect x="1417.6" y="674.0" width="5.2" height="30.5" fill="#000"/>
<rect x="1417.6" y="731.0" width="5.2" height="28.3" fill="#000"/>
<rect x="1417.6" y="787.5" width="5.2" height="28.5" fill="#000"/>
<rect x="1417.6" y="844.2" width="5.2" height="28.4" fill="#000"/>
<rect x="1855.9" y="395.4" width="5.2" height="31.2" fill="#000"/>
<rect x="1855.9" y="452.2" width="5.2" height="28.5" fill="#000"/>
<rect x="1855.9" y="509.1" width="5.2" height="28.4" fill="#000"/>
<rect x="1513.0" y="1076.3" width="5.2" height="30.9" fill="#000"/>
<rect x="1513.0" y="1133.0" width="5.2" height="30.7" fill="#000"/>
<rect x="1513.0" y="1189.5" width="5.2" height="28.2" fill="#000"/>
<text transform="translate(75.4,1597) scale(1.074,1)" font-size="73">100</text>
<text transform="translate(438.5,1597) scale(1.075,1)" font-size="73">200</text>
<text transform="translate(799.1,1597) scale(1.075,1)" font-size="73">300</text>
<text transform="translate(1164.3,1597) scale(1.049,1)" font-size="73">400</text>
<text transform="translate(1524.8,1597) scale(1.051,1)" font-size="73">500</text>
<text transform="translate(1886.1,1597) scale(1.043,1)" font-size="73">600</text>
<text transform="translate(1143.8,423.8) scale(1.035,1)" font-size="73">420</text>
<text transform="translate(1262.3,908) scale(1.067,1)" font-size="73">455</text>
<text transform="translate(1726.6,589) scale(1.043,1)" font-size="73">570</text>
<text transform="translate(1383.7,1269.2) scale(1.066,1)" font-size="73">479</text>
<text transform="translate(156.6,431.3) scale(1.088,1)" font-size="97">C</text>
<text transform="translate(166.2,852.2) scale(0.998,1)" font-size="97">B</text>
<text transform="translate(166.2,1241.2) scale(1.006,1)" font-size="97">A</text>
<text x="750.5" y="1733" font-size="73" letter-spacing="1.65">Temperature <tspan dx="-4">(</tspan><tspan font-size="45" dy="-33">o</tspan><tspan dy="33">C</tspan><tspan dx="3">)</tspan></text>
<text transform="translate(73.8,1045.3) rotate(-90)" font-size="73" letter-spacing="1.1">TCD Signal (a.u.)</text>
</svg></body></html>
